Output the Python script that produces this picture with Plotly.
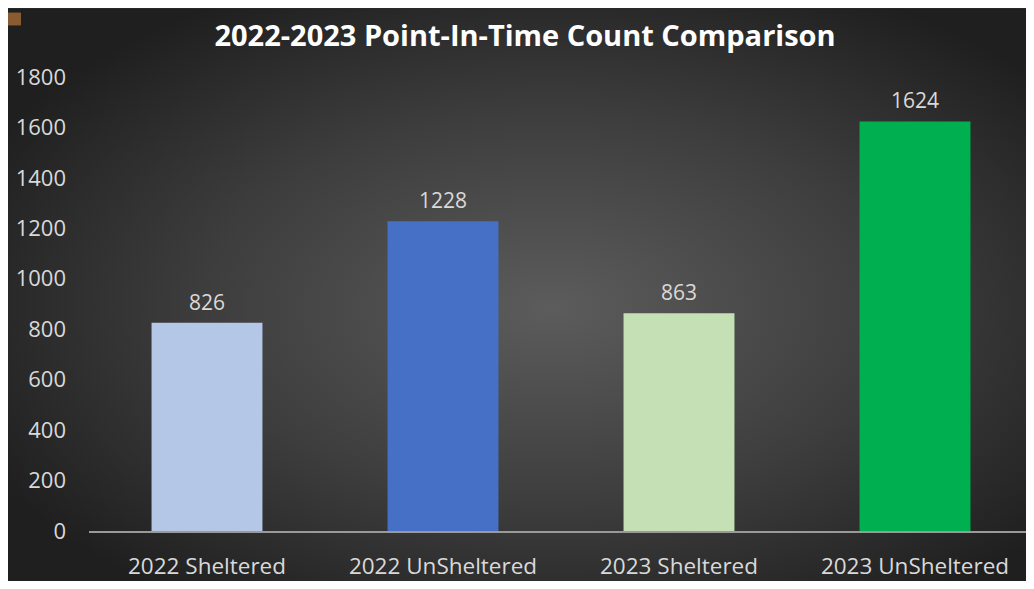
import plotly.graph_objects as go
import urllib.parse

categories = ["2022 Sheltered", "2022 UnSheltered", "2023 Sheltered", "2023 UnSheltered"]
values = [826, 1228, 863, 1624]
colors = ["#b4c7e7", "#4670c6", "#c5e0b4", "#00b050"]
y_ticks = [0, 200, 400, 600, 800, 1000, 1200, 1400, 1600, 1800]
title_text = "2022-2023 Point-In-Time Count Comparison"

W, H = 1018, 573
L, R, T, B = 81, 0, 69, 46
pw, ph = W - L - R, H - T - B
CAT_PX = 236.0  # pixel width of one category slot

def px_x(p):
    return (p - L) / pw

def px_y(p):
    return (H - B - p) / ph

svg = ("<svg xmlns='http://www.w3.org/2000/svg' width='1026' height='581' preserveAspectRatio='none'>"
       "<defs><radialGradient id='g' cx='53%' cy='52%' r='62%'>"
       "<stop offset='0' stop-color='#5c5c5c'/>"
       "<stop offset='0.55' stop-color='#3d3d3d'/>"
       "<stop offset='1' stop-color='#1f1f1f'/>"
       "</radialGradient></defs>"
       "<rect width='1026' height='581' fill='url(#g)'/></svg>")
src = "data:image/svg+xml;charset=utf-8," + urllib.parse.quote(svg)

FONT = "Open Sans"

fig = go.Figure(go.Bar(
    x=categories, y=values,
    marker=dict(color=colors, line=dict(width=0)),
    width=0.47,
    cliponaxis=False,
))

annotations = [dict(x=c, y=v, xref="x", yref="y", text=str(v), showarrow=False,
                    yanchor="bottom", yshift=5,
                    font=dict(family=FONT, size=21, color="#d9d9d9"))
               for c, v in zip(categories, values)]

fig.update_layout(
    width=W, height=H,
    margin=dict(l=L, r=R, t=T, b=B),
    paper_bgcolor="#2a2a2a",
    plot_bgcolor="rgba(0,0,0,0)",
    showlegend=False,
    annotations=annotations,
    title=dict(text="<b>" + title_text + "</b>", x=px_x(525 - 8), xref="paper", xanchor="center",
               y=1 - 28 / H, yanchor="middle",
               font=dict(family=FONT, size=29, color="white")),
    images=[dict(source=src, xref="paper", yref="paper",
                 x=px_x(0), y=px_y(0), sizex=px_x(W + 8) - px_x(0), sizey=px_y(0) - px_y(H + 8),
                 xanchor="left", yanchor="top", sizing="stretch", layer="below")],
    shapes=[dict(type="rect", xref="paper", yref="paper",
                 x0=px_x(0), x1=px_x(13), y0=px_y(17), y1=px_y(4),
                 fillcolor="#8a5a30", line=dict(width=0), layer="above")],
    xaxis=dict(showgrid=False, showline=True, linecolor="#9a9a9a", linewidth=1.5,
               range=[-0.5, -0.5 + pw / CAT_PX],
               ticks="", ticklabelstandoff=14,
               tickfont=dict(family=FONT, size=22.5, color="#d9d9d9")),
    yaxis=dict(range=[0, 1800], tickvals=y_ticks, showgrid=False, zeroline=False,
               showline=False, ticks="", ticklabelstandoff=22,
               tickfont=dict(family=FONT, size=22, color="#d9d9d9")),
)

fig.write_html("out.html")
